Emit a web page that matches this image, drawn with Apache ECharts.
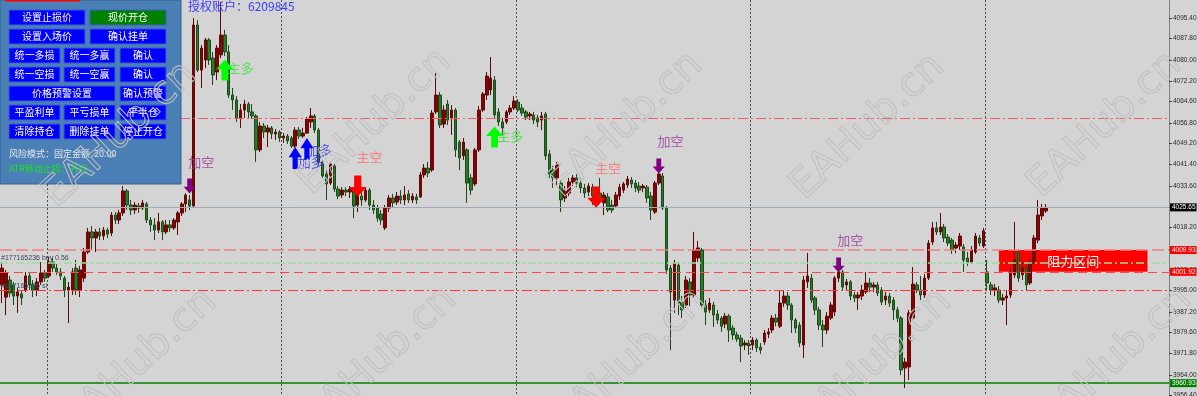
<!DOCTYPE html>
<html><head><meta charset="utf-8">
<script src="https://cdn.jsdelivr.net/npm/echarts@6/dist/echarts.min.js"></script>
<style>html,body{margin:0;padding:0;background:#d4d4d4;overflow:hidden;}#c{width:1198px;height:396px;}</style>
</head><body><div id="c"></div><script>
// [open, close, low, high]
const candles = [
[3997.1,4003.3,3990.4,4005.5],[3992.6,4001.5,3986.0,4002.6],[3998.9,3994.1,3992.6,4000.4],[3997.1,3993.0,3989.7,3998.2],
[3993.0,3994.5,3986.8,3996.0],[3993.8,3992.3,3989.7,3995.2],[3995.2,4000.4,3994.5,4001.9],[4000.4,3997.1,3995.2,4001.5],
[3997.1,3995.2,3992.6,3998.9],[3995.2,3998.2,3993.0,3999.6],[3998.2,4001.5,3997.1,4005.5],[4001.5,3999.6,3998.2,4002.6],
[4000.4,4005.5,3999.6,4007.4],[4005.5,4003.3,4001.9,4007.0],[4003.3,4001.9,4000.8,4004.8],[4001.9,4000.4,3998.9,4003.3],
[3999.6,3995.2,3992.6,4000.4],[3995.2,3996.3,3983.1,3998.2],[3995.2,4001.9,3993.4,4003.3],[4003.3,3995.2,3993.4,4006.3],
[3995.2,4002.6,3992.6,4004.1],[3999.6,4009.2,3998.2,4010.7],[4009.2,4016.6,4008.5,4018.1],[4016.6,4014.4,4010.0,4018.8],
[4014.4,4016.6,4009.2,4017.7],[4016.6,4015.1,4013.6,4018.1],[4015.1,4017.3,4013.6,4018.4],[4017.3,4015.8,4014.4,4018.1],
[4016.2,4022.8,4015.1,4023.9],[4022.8,4021.0,4019.5,4023.9],[4021.0,4023.6,4019.5,4024.7],[4023.6,4031.7,4022.5,4033.5],
[4031.7,4026.5,4024.7,4032.4],[4026.5,4024.7,4022.8,4028.4],[4024.7,4026.5,4023.2,4027.6],[4026.2,4025.4,4023.6,4027.3],
[4025.4,4027.3,4024.7,4028.4],[4026.9,4021.0,4019.9,4027.6],[4021.0,4019.2,4016.6,4022.1],[4019.2,4017.3,4013.6,4021.7],
[4017.3,4020.3,4016.2,4023.6],[4020.3,4016.6,4013.6,4021.0],[4016.6,4019.2,4015.8,4021.0],[4019.2,4018.1,4016.6,4021.0],
[4018.1,4021.0,4017.3,4021.7],[4020.3,4023.6,4015.5,4024.3],[4023.6,4026.9,4022.5,4027.6],[4026.9,4030.2,4023.9,4030.9],
[4028.4,4026.2,4024.7,4030.2],[4026.2,4092.8,4025.8,4095.4],[4092.8,4076.2,4075.5,4094.6],[4076.2,4084.3,4069.6,4085.4],
[4079.9,4087.3,4076.9,4088.0],[4087.3,4079.9,4078.1,4088.0],[4080.6,4074.4,4070.7,4082.9],[4075.5,4084.3,4072.5,4085.4],
[4081.8,4089.1,4080.6,4101.3],[4089.1,4082.9,4081.4,4091.0],[4082.9,4067.0,4065.9,4085.4],[4067.0,4065.2,4061.5,4069.6],
[4065.2,4058.6,4057.1,4066.6],[4058.6,4061.5,4054.9,4063.7],[4061.5,4063.7,4058.6,4065.2],[4063.7,4060.8,4058.6,4064.4],
[4060.8,4059.3,4058.2,4063.7],[4059.3,4046.8,4042.4,4060.0],[4046.8,4055.6,4046.0,4057.1],[4055.6,4053.4,4051.2,4056.7],
[4053.4,4054.9,4047.9,4056.0],[4054.9,4052.7,4050.8,4055.6],[4052.7,4053.4,4050.5,4054.5],[4053.4,4051.2,4049.7,4054.1],
[4051.2,4051.9,4049.4,4053.0],[4051.9,4050.1,4049.0,4052.7],[4051.2,4048.2,4047.5,4051.9],[4048.2,4054.1,4047.5,4055.2],
[4054.1,4051.9,4050.8,4055.2],[4051.9,4053.0,4051.2,4054.9],[4053.0,4058.2,4052.7,4058.9],[4057.1,4059.3,4054.9,4062.2],
[4059.3,4054.1,4053.0,4060.0],[4054.1,4042.4,4041.3,4054.9],[4042.4,4037.2,4036.5,4043.1],[4037.9,4034.3,4028.4,4039.4],
[4034.6,4041.6,4033.9,4042.4],[4040.9,4032.4,4031.3,4041.6],[4032.4,4029.8,4028.7,4033.5],[4030.2,4032.0,4029.1,4033.1],
[4032.0,4031.3,4029.8,4033.1],[4031.3,4032.4,4029.1,4033.5],[4032.0,4026.2,4021.7,4032.8],[4026.5,4030.2,4023.9,4031.3],
[4029.8,4028.4,4026.2,4031.3],[4028.4,4032.0,4027.6,4033.1],[4032.0,4026.5,4024.7,4032.8],[4026.5,4024.7,4023.2,4028.4],
[4025.4,4021.7,4020.3,4026.5],[4023.2,4021.0,4019.2,4024.7],[4018.1,4025.4,4017.3,4026.5],[4025.4,4029.1,4023.9,4030.2],
[4029.1,4027.3,4025.8,4030.6],[4027.6,4029.8,4026.5,4031.3],[4029.8,4028.4,4026.9,4032.0],[4028.4,4030.2,4026.5,4033.5],
[4030.6,4028.4,4027.3,4032.0],[4028.4,4029.8,4027.3,4030.9],[4029.5,4028.4,4026.9,4030.6],[4029.5,4037.6,4029.1,4038.7],
[4037.6,4040.1,4036.5,4041.6],[4040.1,4038.3,4036.8,4042.4],[4039.4,4060.4,4038.7,4061.5],[4060.8,4067.0,4060.0,4075.1],
[4067.0,4056.0,4054.9,4068.1],[4056.3,4061.5,4054.9,4063.3],[4063.7,4057.8,4056.0,4065.2],[4058.6,4061.5,4052.3,4063.3],
[4061.5,4046.8,4044.2,4062.2],[4049.7,4043.8,4039.4,4050.5],[4044.6,4049.7,4043.1,4051.2],[4046.8,4034.6,4027.3,4047.5],
[4036.5,4032.0,4030.2,4037.9],[4034.3,4046.8,4033.5,4047.5],[4046.8,4061.5,4046.0,4063.0],[4061.5,4067.4,4060.8,4068.1],
[4067.0,4074.0,4065.2,4075.5],[4068.9,4073.3,4067.0,4081.0],[4072.5,4059.7,4058.6,4074.0],[4060.8,4057.1,4055.6,4062.2],
[4057.1,4054.9,4052.3,4058.6],[4057.1,4060.8,4056.3,4061.5],[4060.8,4062.2,4059.7,4063.3],[4062.2,4064.8,4061.5,4066.6],
[4064.4,4061.5,4060.8,4065.5],[4062.2,4060.4,4059.3,4063.7],[4060.8,4058.9,4057.8,4061.5],[4059.3,4060.0,4057.8,4060.8],
[4059.7,4057.8,4056.3,4060.8],[4058.6,4057.1,4055.2,4059.7],[4057.8,4059.3,4054.1,4060.8],[4060.0,4044.6,4043.1,4060.8],
[4045.3,4037.9,4036.5,4046.8],[4039.4,4036.5,4032.8,4040.9],[4036.5,4041.3,4033.9,4042.4],[4034.6,4028.4,4023.9,4035.7],
[4029.1,4032.0,4027.6,4033.5],[4030.9,4035.0,4029.8,4036.5],[4035.0,4036.5,4033.5,4037.6],[4036.5,4034.6,4033.1,4037.9],
[4034.6,4032.8,4030.9,4036.5],[4032.8,4030.9,4029.1,4034.3],[4031.3,4033.5,4029.8,4034.6],[4033.1,4029.8,4026.5,4034.3],
[4029.8,4031.3,4025.4,4032.8],[4030.9,4028.4,4026.9,4036.5],[4027.3,4030.2,4022.8,4031.3],[4029.5,4024.7,4023.9,4030.9],
[4026.5,4024.7,4023.6,4028.4],[4026.2,4030.2,4025.4,4031.3],[4029.8,4033.1,4028.4,4034.3],[4032.0,4034.3,4030.9,4035.0],
[4033.9,4036.1,4032.8,4037.2],[4035.7,4034.3,4032.8,4036.8],[4034.6,4032.8,4031.3,4035.7],[4033.5,4032.0,4030.9,4035.0],
[4032.8,4033.5,4031.3,4034.3],[4033.1,4029.1,4027.3,4033.9],[4029.8,4024.7,4021.0,4031.3],[4023.9,4034.6,4023.2,4035.4],
[4034.6,4037.9,4033.9,4039.4],[4037.2,4025.4,4024.7,4038.3],[4025.4,4002.6,4001.1,4026.2],[4003.3,3994.5,3973.1,4004.4],
[3991.5,4005.2,3986.8,4006.3],[4004.4,3990.4,3986.0,4005.5],[3990.8,3987.9,3984.9,3993.0],[3989.7,3998.9,3988.6,4000.4],
[3998.2,3993.4,3989.3,3999.6],[3993.4,4010.0,3992.6,4016.6],[4007.0,4010.7,4005.5,4013.3],[4010.0,3989.7,3988.6,4010.7],
[3989.7,3987.1,3982.3,3991.5],[3987.9,3990.4,3986.8,3992.3],[3989.7,3986.0,3981.6,3990.8],[3986.4,3984.2,3982.7,3987.9],
[3984.9,3981.9,3979.8,3985.6],[3982.7,3985.6,3981.2,3986.8],[3985.6,3980.5,3976.1,3986.4],[3981.2,3978.7,3976.8,3982.3],
[3978.7,3977.2,3976.1,3979.8],[3977.5,3974.6,3968.7,3978.7],[3975.0,3975.7,3973.1,3976.8],[3975.7,3974.6,3971.3,3976.8],
[3975.0,3976.8,3973.1,3977.9],[3976.8,3973.9,3972.4,3977.5],[3974.2,3973.1,3971.7,3975.7],[3976.1,3979.4,3975.0,3980.5],
[3979.0,3979.8,3977.5,3981.2],[3980.5,3984.9,3979.4,3986.0],[3984.9,3983.4,3981.9,3986.4],[3981.9,3990.4,3981.2,3995.2],
[3990.4,3993.0,3989.0,3995.2],[3993.0,3989.7,3987.9,3994.5],[3989.7,3984.2,3979.4,3990.4],[3984.2,3981.2,3979.4,3984.9],
[3982.3,3975.7,3974.2,3983.4],[3975.0,3998.9,3970.2,4000.4],[3998.2,4000.4,3996.0,4008.9],[3999.6,3991.5,3990.4,4001.1],
[3992.3,3987.9,3986.0,3993.0],[3987.9,3982.3,3980.5,3989.0],[3982.3,3980.5,3974.2,3984.2],[3980.5,3985.6,3979.0,3987.1],
[3984.9,3989.7,3984.2,3990.8],[3987.1,3999.6,3985.6,4000.4],[3999.6,4001.9,3998.2,4003.3],[4001.9,3996.3,3995.2,4002.6],
[3997.1,3998.2,3995.2,3999.3],[3998.2,3993.0,3991.5,3998.9],[3993.4,3992.3,3990.8,3994.5],[3992.3,3993.4,3987.9,3994.5],
[3993.0,3995.2,3991.5,3997.1],[3994.5,3997.8,3993.8,4001.9],[3997.8,3996.3,3994.5,3999.6],[3996.3,3997.1,3994.5,3998.2],
[3997.1,3994.1,3993.0,3998.2],[3995.2,3990.8,3989.7,3996.3],[3991.5,3993.0,3989.7,3994.5],[3993.0,3990.4,3989.0,3994.1],
[3991.5,3987.9,3984.2,3992.6],[3987.9,3984.9,3983.4,3989.0],[3984.9,3965.8,3963.9,3985.6],[3966.5,3968.7,3959.1,3970.2],
[3966.9,3986.8,3962.1,3987.9],[3984.9,3997.4,3984.2,4003.7],[3997.1,3995.2,3994.1,3998.2],[3995.2,3993.4,3991.5,4000.4],
[3993.4,3999.6,3992.3,4001.1],[3999.6,4012.5,3998.9,4013.6],[4012.9,4018.1,4011.8,4020.3],[4018.1,4016.6,4015.5,4020.3],
[4016.6,4018.4,4015.5,4023.6],[4018.4,4014.4,4012.9,4019.5],[4014.7,4012.5,4011.4,4015.8],[4013.6,4010.0,4008.5,4014.4],
[4010.7,4011.8,4008.8,4012.9],[4011.4,4015.1,4010.0,4016.2],[4011.1,4006.3,4001.9,4012.2],[4007.0,4005.5,4004.1,4009.2],
[4005.5,4010.0,4004.8,4011.4],[4009.2,4015.1,4008.5,4016.2],[4014.4,4012.5,4011.4,4015.5],[4011.4,4017.0,4010.7,4018.1],
[4001.9,3997.8,3995.2,4006.3],[3997.1,3995.2,3993.4,3998.2],[3995.2,3996.0,3993.0,3997.4],[3995.2,3991.5,3990.4,3996.7],
[3991.5,3992.3,3989.7,3993.8],[3992.3,3993.0,3982.3,3995.2],[3993.4,4001.9,3992.3,4003.3],[4000.8,4006.3,3999.6,4020.3],
[4009.2,3999.6,3998.2,4010.0],[4000.8,4003.3,3998.9,4005.5],[4003.3,3997.1,3995.2,4004.4],[3997.8,4005.5,3997.1,4007.0],
[4005.5,4014.4,4004.4,4015.5],[4013.6,4022.8,4012.5,4028.4],[4022.5,4025.4,4021.0,4026.9],[4024.3,4025.65,4023.6,4026.9]
];
const totalSlots = 299;
const categories = [];
for (let i = 0; i < totalSlots; i++) { const m = 48 + i; categories.push(String(9 + Math.floor(m / 60)).padStart(2,'0') + ':' + String(m % 60).padStart(2,'0')); }
const yTickValues = [4095.4,4087.8,4080.0,4072.2,4064.6,4056.8,4049.2,4041.4,4033.6,4025.8,4018.2,4010.4,4002.6,3995.0,3987.2,3979.6,3971.8,3964.0,3956.4];
const currentPrice = 4025.65;
const zoneTop = 4009.93, zoneBottom = 4001.92;
const stopLine = 3960.93;
const upperAlert = 4058.45;
const buyLine = 4005.27;
const slLine = 3995.2;
const zoneStart = 255, zoneEnd = 293;
const arrowsUpGreen = [[57,4076.2],[126,4051.6]];
const arrowsUpBlue = [[75,4043.8],[78,4047.1]];
const arrowsDownRed = [[91,4033.5],[152,4029.5]];
const arrowsDownPurple = [[48,4033.5],[168,4040.9],[214,4004.4]];
const signalTexts = [
  ['加空',51,4042.4,'#9a3a9a'],['主多',61,4077.0,'#3ee03e'],['加多',81,4046.8,'#2b2bff'],['加多',79,4042.4,'#2b2bff'],
  ['主空',94,4044.2,'#ff6a6a'],['主多',130,4051.9,'#3ee03e'],['主空',155,4040.1,'#ff6a6a'],['加空',171,4050.1,'#9a3a9a'],['加空',217,4013.6,'#9a3a9a']
];
const buttons = [
  ['设置止损价',9,10,76,'#0000ff'],['现价开仓',90,10,76,'#008000'],
  ['设置入场价',9,29,76,'#0000ff'],['确认挂单',90,29,76,'#0000ff'],
  ['统一多损',9,48,51,'#0000ff'],['统一多赢',64,48,51,'#0000ff'],['确认',120,48,46,'#0000ff'],
  ['统一空损',9,67,51,'#0000ff'],['统一空赢',64,67,51,'#0000ff'],['确认',120,67,46,'#0000ff'],
  ['价格预警设置',9,86,106,'#0000ff'],['确认预警',120,86,46,'#0000ff'],
  ['平盈利单',9,105,51,'#0000ff'],['平亏损单',64,105,51,'#0000ff'],['平半仓',120,105,46,'#0000ff'],
  ['清除持仓',9,124,51,'#0000ff'],['删除挂单',64,124,51,'#0000ff'],['停止开仓',120,124,46,'#0000ff']
];
const watermarks = [[120,135],[375,122],[626,125],[868,127],[1105,125],[140,362],[380,360],[630,362],[875,362],[1115,360]];

const FONT = '"Noto Sans CJK SC","Noto Sans",sans-serif';
const AXFONT = '"Liberation Sans",Arial,sans-serif';
const UP = 'path://M5,0 L10,5.5 L7,5.5 L7,12 L3,12 L3,5.5 L0,5.5 Z';
const DOWN = 'path://M5,12 L10,6.5 L7,6.5 L7,0 L3,0 L3,6.5 L0,6.5 Z';

const graphic = [];
graphic.push({type:'rect', shape:{x:0,y:0,width:181,height:184}, style:{fill:'#4a80b6', stroke:'#30608f', lineWidth:1}, z:50});
graphic.push({type:'rect', shape:{x:5,y:0,width:75,height:1.5}, style:{fill:'#ff0000'}, z:51});
buttons.forEach(b => {
  graphic.push({type:'rect', shape:{x:b[1],y:b[2],width:b[3],height:15}, style:{fill:b[4], stroke:'#3a5fd0', lineWidth:1}, z:51});
  graphic.push({type:'text', x:b[1]+b[3]/2, y:b[2]+7.5, style:{text:b[0], fill:'#ffffff', font:'10px '+FONT, align:'center', verticalAlign:'middle'}, z:52});
});
graphic.push({type:'text', x:9, y:154, style:{text:'风险模式：固定金额  20.00', fill:'#e6e6e6', font:'9px '+FONT, align:'left', verticalAlign:'middle'}, z:52});
graphic.push({type:'text', x:9, y:169, style:{text:'ATR移动止损：开启', fill:'#19e619', font:'9px '+FONT, align:'left', verticalAlign:'middle'}, z:52});
graphic.push({type:'text', x:188, y:6, style:{text:'授权账户：6209845', fill:'#3c3cff', font:'12px '+FONT, align:'left', verticalAlign:'middle'}, z:52});
watermarks.forEach(w => {
  graphic.push({type:'text', x:w[0], y:w[1], rotation:0.75, style:{text:'EAHub.cn', fill:'rgba(0,0,0,0)', stroke:'#c0c0c0', lineWidth:1, font:'40px "DejaVu Sans",sans-serif', align:'center', verticalAlign:'middle'}, z:60, silent:true});
});

function tag(v, bg, color, line) {
  return {yAxis:v, lineStyle:line, label:{show:true, position:'end', distance:1, formatter:v.toFixed(2), backgroundColor:bg, color:color, fontSize:6.5, padding:[1,1,0,2], fontFamily:AXFONT}};
}

const chart = echarts.init(document.getElementById('c'), null, {renderer:'canvas'});
chart.setOption({
  backgroundColor:'#d4d4d4',
  animation:false,
  grid:{left:0,right:29,top:0,bottom:0,containLabel:false,outerBoundsMode:'none'},
  xAxis:{type:'category', data:categories, boundaryGap:true, axisLine:{show:false}, axisTick:{show:false}, axisLabel:{show:false},
    splitLine:{show:true, interval:(idx)=> idx % 60 === 12, lineStyle:{color:'#4a4a4a', type:[2,2], width:1}}},
  yAxis:{type:'value', position:'right', min:3956.2, max:4102.0, scale:true,
    axisLine:{show:true, lineStyle:{color:'#808080', width:1}},
    axisTick:{show:true, length:3, customValues:yTickValues, lineStyle:{color:'#404040'}},
    axisLabel:{show:true, customValues:yTickValues, formatter:(v)=>v.toFixed(2), fontSize:6.5, color:'#2a2a2a', margin:4, fontFamily:AXFONT},
    splitLine:{show:false}},
  graphic: graphic,
  series:[
    {type:'line', data:[], z:1, silent:true,
      markArea:{silent:true, itemStyle:{color:'#ff0000', opacity:1},
        label:{show:true, position:'inside', color:'#ffffff', fontSize:13, fontFamily:FONT},
        data:[[{xAxis:zoneStart, yAxis:zoneTop, name:'阻力区间'},{xAxis:zoneEnd, yAxis:zoneBottom}]]},
      markLine:{silent:true, symbol:['none','none'], animation:false,
        data:[
          {yAxis:upperAlert, lineStyle:{color:'#f06060', type:[10,3,2,3], width:1}, label:{show:false}},
          {yAxis:buyLine, lineStyle:{color:'#98e098', type:[8,3,2,3], width:1.5}, label:{show:true, position:'insideStartTop', distance:1, formatter:'#177165236 buy 0.56', color:'#3a4860', fontSize:7, fontFamily:AXFONT}},
          {yAxis:slLine, lineStyle:{color:'#ff3535', type:[10,3,2,3], width:1}, label:{show:true, position:'insideStartTop', distance:1, formatter:'#177165236 sl', color:'#3a4860', fontSize:7, fontFamily:AXFONT}},
          tag(currentPrice,'#000000','#ffffff',{color:'#a0aab6', type:'solid', width:1}),
          tag(zoneTop,'#ff0000','#ffffff',{color:'#f08080', type:[12,4], width:1.5}),
          tag(zoneBottom,'#ff0000','#ffffff',{color:'#ff4545', type:[9,5], width:1}),
          tag(stopLine,'#008000','#ffffff',{color:'#008000', type:'solid', width:1.5})
        ]}},
    {type:'candlestick', data:candles, z:3, barWidth:3,
      itemStyle:{color:'#8b0000', color0:'#2a7a2a', borderColor:'#5c0a0a', borderColor0:'#1a4a1a', borderWidth:1}},
    {type:'scatter', z:5, data:arrowsUpGreen, symbol:UP, symbolSize:[17,21], itemStyle:{color:'#00ff00', opacity:1}},
    {type:'scatter', z:5, data:arrowsUpBlue, symbol:UP, symbolSize:[13,22], itemStyle:{color:'#0000ff', opacity:1}},
    {type:'scatter', z:5, data:arrowsDownRed, symbol:DOWN, symbolSize:[18,21], itemStyle:{color:'#ff0000', opacity:1}},
    {type:'scatter', z:5, data:arrowsDownPurple, symbol:DOWN, symbolSize:[12,15], itemStyle:{color:'#800080', opacity:1}},
    {type:'scatter', z:4, symbol:'circle', symbolSize:1, itemStyle:{color:'rgba(0,0,0,0)'},
      data:signalTexts.map(t=>({value:[t[1],t[2]], name:t[0], label:{color:t[3]}})),
      label:{show:true, position:'inside', formatter:'{b}', fontSize:13, fontFamily:FONT}}
  ]
});
</script></body></html>
